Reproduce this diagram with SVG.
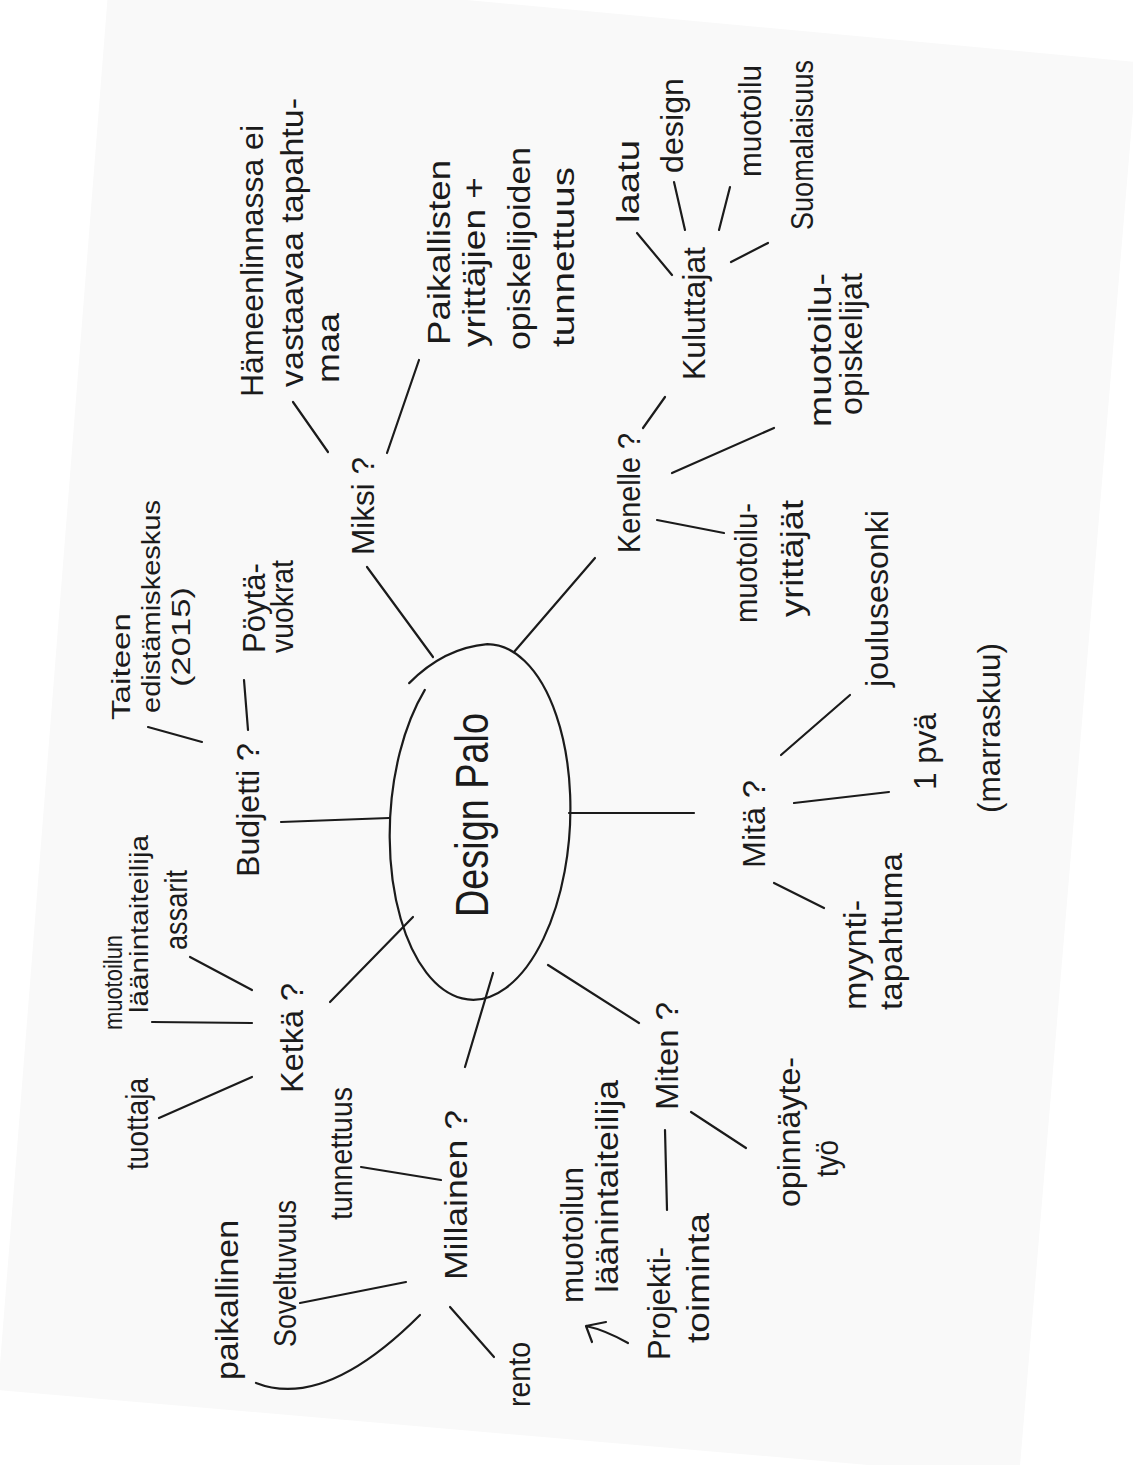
<svg xmlns="http://www.w3.org/2000/svg" width="1133" height="1465" viewBox="0 0 1133 1465">
<style>
.t{font-family:"Liberation Sans",Arial,sans-serif;font-size:31px;fill:#1b1b1b}
.s{font-size:26px}
.c{font-size:46px}
.ln{stroke:#1b1b1b;stroke-width:2.2;fill:none;stroke-linecap:round}
</style>
<rect x="0" y="0" width="1133" height="1465" fill="#ffffff"/>
<polygon points="110,-33 1137,62 1019,1478 -2,1390" fill="#f9f9f9"/>
<g id="connectors" class="ln">
<line x1="367" y1="567" x2="433" y2="657"/>
<line x1="595" y1="558" x2="514" y2="652"/>
<line x1="569" y1="813" x2="694" y2="813"/>
<line x1="548" y1="965" x2="639" y2="1023"/>
<line x1="493" y1="973" x2="465" y2="1067"/>
<line x1="413" y1="917" x2="330" y2="1002"/>
<line x1="281" y1="822" x2="389" y2="818"/>
<line x1="293" y1="402" x2="328" y2="452"/>
<line x1="419" y1="360" x2="387" y2="453"/>
<line x1="643" y1="428" x2="665" y2="397"/>
<line x1="672" y1="473" x2="774" y2="428"/>
<line x1="657" y1="520" x2="724" y2="533"/>
<line x1="637" y1="233" x2="672" y2="275"/>
<line x1="674" y1="182" x2="685" y2="230"/>
<line x1="730" y1="187" x2="719" y2="230"/>
<line x1="768" y1="243" x2="731" y2="262"/>
<line x1="781" y1="755" x2="850" y2="695"/>
<line x1="794" y1="803" x2="889" y2="792"/>
<line x1="774" y1="883" x2="824" y2="908"/>
<line x1="665" y1="1130" x2="667" y2="1210"/>
<line x1="691" y1="1112" x2="746" y2="1148"/>
<path d="M628 1343 Q605 1330 586 1326 M586 1326 L606 1322 M586 1326 L592 1342"/>
<line x1="361" y1="1167" x2="441" y2="1180"/>
<line x1="300" y1="1303" x2="406" y2="1282"/>
<path d="M256 1383 Q325 1410 420 1315"/>
<line x1="450" y1="1307" x2="494" y2="1357"/>
<line x1="190" y1="957" x2="252" y2="990"/>
<line x1="152" y1="1022" x2="252" y2="1023"/>
<line x1="159" y1="1118" x2="252" y2="1077"/>
<line x1="148" y1="727" x2="202" y2="742"/>
<line x1="244" y1="680" x2="248" y2="730"/>
</g>
<g id="center">
<path class="ln" transform="rotate(3 480 822)" d="M418 693 A90 178 0 1 0 478 644 Q435 650 402 687"/>
<text class="t c" transform="translate(488,917) rotate(-90)" textLength="204" lengthAdjust="spacingAndGlyphs">Design Palo</text>
</g>
<g id="miksi">
<text class="t" transform="translate(374,555) rotate(-90)" textLength="98" lengthAdjust="spacingAndGlyphs">Miksi ?</text>
</g>
<g id="hameenlinnassa">
<text class="t" transform="translate(263,397) rotate(-90)" textLength="272" lengthAdjust="spacingAndGlyphs">Hämeenlinnassa ei</text>
<text class="t" transform="translate(303,387) rotate(-90)" textLength="289" lengthAdjust="spacingAndGlyphs">vastaavaa tapahtu-</text>
<text class="t" transform="translate(339,383) rotate(-90)" textLength="70" lengthAdjust="spacingAndGlyphs">maa</text>
</g>
<g id="paikallisten">
<text class="t" transform="translate(450,345) rotate(-90)" textLength="185" lengthAdjust="spacingAndGlyphs">Paikallisten</text>
<text class="t" transform="translate(485,347) rotate(-90)" textLength="170" lengthAdjust="spacingAndGlyphs">yrittäjien +</text>
<text class="t" transform="translate(530,350) rotate(-90)" textLength="203" lengthAdjust="spacingAndGlyphs">opiskelijoiden</text>
<text class="t" transform="translate(574,347) rotate(-90)" textLength="180" lengthAdjust="spacingAndGlyphs">tunnettuus</text>
</g>
<g id="kenelle">
<text class="t" transform="translate(640,553) rotate(-90)" textLength="120" lengthAdjust="spacingAndGlyphs">Kenelle ?</text>
</g>
<g id="kuluttajat">
<text class="t" transform="translate(705,380) rotate(-90)" textLength="133" lengthAdjust="spacingAndGlyphs">Kuluttajat</text>
</g>
<g id="laatu"><text class="t" transform="translate(639,223) rotate(-90)" textLength="83" lengthAdjust="spacingAndGlyphs">laatu</text></g>
<g id="design"><text class="t" transform="translate(683,173) rotate(-90)" textLength="95" lengthAdjust="spacingAndGlyphs">design</text></g>
<g id="muotoilu"><text class="t" transform="translate(761,177) rotate(-90)" textLength="112" lengthAdjust="spacingAndGlyphs">muotoilu</text></g>
<g id="suomalaisuus"><text class="t" transform="translate(813,230) rotate(-90)" textLength="170" lengthAdjust="spacingAndGlyphs">Suomalaisuus</text></g>
<g id="muotoilu-opiskelijat">
<text class="t" transform="translate(831,427) rotate(-90)" textLength="154" lengthAdjust="spacingAndGlyphs">muotoilu-</text>
<text class="t" transform="translate(862,415) rotate(-90)" textLength="142" lengthAdjust="spacingAndGlyphs">opiskelijat</text>
</g>
<g id="muotoilu-yrittajat">
<text class="t" transform="translate(757,623) rotate(-90)" textLength="120" lengthAdjust="spacingAndGlyphs">muotoilu-</text>
<text class="t" transform="translate(803,617) rotate(-90)" textLength="117" lengthAdjust="spacingAndGlyphs">yrittäjät</text>
</g>
<g id="mita">
<text class="t" transform="translate(765,868) rotate(-90)" textLength="88" lengthAdjust="spacingAndGlyphs">Mitä ?</text>
</g>
<g id="joulusesonki"><text class="t" transform="translate(888,687) rotate(-90)" textLength="177" lengthAdjust="spacingAndGlyphs">joulusesonki</text></g>
<g id="pva">
<text class="t" transform="translate(936,790) rotate(-90)" textLength="77" lengthAdjust="spacingAndGlyphs">1 pvä</text>
<text class="t" transform="translate(1000,813) rotate(-90)" textLength="170" lengthAdjust="spacingAndGlyphs">(marraskuu)</text>
</g>
<g id="myyntitapahtuma">
<text class="t" transform="translate(866,1010) rotate(-90)" textLength="110" lengthAdjust="spacingAndGlyphs">myynti-</text>
<text class="t" transform="translate(902,1010) rotate(-90)" textLength="157" lengthAdjust="spacingAndGlyphs">tapahtuma</text>
</g>
<g id="budjetti">
<text class="t" transform="translate(259,877) rotate(-90)" textLength="134" lengthAdjust="spacingAndGlyphs">Budjetti ?</text>
</g>
<g id="taiteen">
<text class="t s" transform="translate(130,720) rotate(-90)" textLength="107" lengthAdjust="spacingAndGlyphs">Taiteen</text>
<text class="t s" transform="translate(160,713) rotate(-90)" textLength="213" lengthAdjust="spacingAndGlyphs">edistämiskeskus</text>
<text class="t s" transform="translate(190,687) rotate(-90)" textLength="100" lengthAdjust="spacingAndGlyphs">(2015)</text>
</g>
<g id="poytavuokrat">
<text class="t" transform="translate(265,653) rotate(-90)" textLength="90" lengthAdjust="spacingAndGlyphs">Pöytä-</text>
<text class="t" transform="translate(293,653) rotate(-90)" textLength="93" lengthAdjust="spacingAndGlyphs">vuokrat</text>
</g>
<g id="ketka">
<text class="t" transform="translate(303,1093) rotate(-90)" textLength="110" lengthAdjust="spacingAndGlyphs">Ketkä ?</text>
</g>
<g id="assarit"><text class="t" transform="translate(187,950) rotate(-90)" textLength="80" lengthAdjust="spacingAndGlyphs">assarit</text></g>
<g id="laanintaiteilija-1">
<text class="t s" transform="translate(122,1030) rotate(-90)" textLength="95" lengthAdjust="spacingAndGlyphs">muotoilun</text>
<text class="t s" transform="translate(148,1013) rotate(-90)" textLength="178" lengthAdjust="spacingAndGlyphs">läänintaiteilija</text>
</g>
<g id="tuottaja"><text class="t" transform="translate(148,1170) rotate(-90)" textLength="92" lengthAdjust="spacingAndGlyphs">tuottaja</text></g>
<g id="millainen">
<text class="t" transform="translate(467,1280) rotate(-90)" textLength="170" lengthAdjust="spacingAndGlyphs">Millainen ?</text>
</g>
<g id="tunnettuus"><text class="t" transform="translate(352,1220) rotate(-90)" textLength="133" lengthAdjust="spacingAndGlyphs">tunnettuus</text></g>
<g id="soveltuvuus"><text class="t" transform="translate(296,1347) rotate(-90)" textLength="147" lengthAdjust="spacingAndGlyphs">Soveltuvuus</text></g>
<g id="paikallinen"><text class="t" transform="translate(238,1380) rotate(-90)" textLength="160" lengthAdjust="spacingAndGlyphs">paikallinen</text></g>
<g id="rento"><text class="t" transform="translate(530,1407) rotate(-90)" textLength="65" lengthAdjust="spacingAndGlyphs">rento</text></g>
<g id="miten">
<text class="t" transform="translate(678,1110) rotate(-90)" textLength="108" lengthAdjust="spacingAndGlyphs">Miten ?</text>
</g>
<g id="laanintaiteilija-2">
<text class="t" transform="translate(583,1303) rotate(-90)" textLength="136" lengthAdjust="spacingAndGlyphs">muotoilun</text>
<text class="t" transform="translate(618,1293) rotate(-90)" textLength="213" lengthAdjust="spacingAndGlyphs">läänintaiteilija</text>
</g>
<g id="projektitoiminta">
<text class="t" transform="translate(670,1360) rotate(-90)" textLength="113" lengthAdjust="spacingAndGlyphs">Projekti-</text>
<text class="t" transform="translate(709,1343) rotate(-90)" textLength="130" lengthAdjust="spacingAndGlyphs">toiminta</text>
</g>
<g id="opinnayte">
<text class="t" transform="translate(800,1207) rotate(-90)" textLength="150" lengthAdjust="spacingAndGlyphs">opinnäyte-</text>
<text class="t" transform="translate(838,1177) rotate(-90)" textLength="37" lengthAdjust="spacingAndGlyphs">työ</text>
</g>
</svg>
